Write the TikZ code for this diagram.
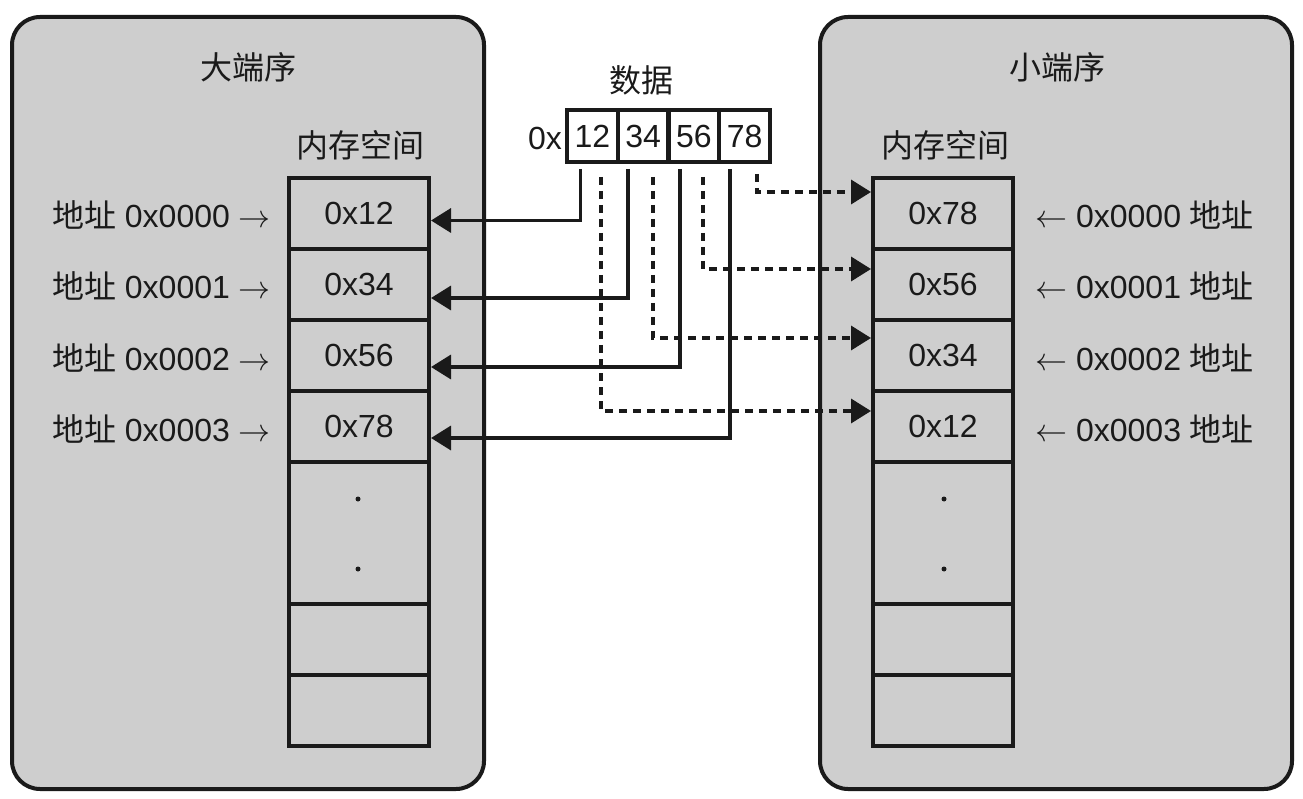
\RequirePackage{fix-cm}
\documentclass[tikz,border=0pt]{standalone}
\usepackage{fontspec}
\setmainfont{Liberation Sans}
\newfontfamily\cjk{Noto Sans CJK SC}
\usetikzlibrary{arrows.meta,calc}
\definecolor{ink}{RGB}{26,26,26}
\definecolor{panelgray}{RGB}{206,206,206}
\begin{document}
\begin{tikzpicture}[x=1pt,y=-1pt,
  every node/.style={text=ink,font=\fontsize{32}{36}\selectfont,inner sep=0pt},
  panel/.style={draw=ink,line width=4pt,fill=panelgray,rounded corners=28pt,minimum width=472pt,minimum height=772pt},
  cell/.style={draw=ink,line width=4pt,minimum width=140pt,minimum height=71pt},
  dcell/.style={draw=ink,line width=4pt,fill=white,minimum width=50.75pt,minimum height=52pt},
  conn/.style={draw=ink,line width=3.5pt,-{Triangle[length=20pt,width=24pt]}},
  dconn/.style={conn,dash pattern=on 8pt off 6pt},
  dotmark/.style={circle,fill=ink,minimum size=5pt}]
\useasboundingbox (0,0) rectangle (1303,799);
\node[panel] (LP) at (248,403) {};
\node[panel] (RP) at (1056,403) {};
\node (LT) at (248,67) {\cjk 大端序};
\node (RT) at (1057,67) {\cjk 小端序};
\node (LM) at (360,145) {\cjk 内存空间};
\node (RM) at (945,145) {\cjk 内存空间};
% left memory
\node[cell] (L1) at (359,213.5) {0x12};
\node[cell] (L2) at (359,284.5) {0x34};
\node[cell] (L3) at (359,355.5) {0x56};
\node[cell] (L4) at (359,426.5) {0x78};
\node[cell,minimum height=142pt] (L5) at (359,533) {};
\node[cell] (L6) at (359,639.5) {};
\node[cell] (L7) at (359,710.5) {};
\node[dotmark] (LD1) at (358,499) {};
\node[dotmark] (LD2) at (358,569) {};
% right memory
\node[cell] (R1) at (943,213.5) {0x78};
\node[cell] (R2) at (943,284.5) {0x56};
\node[cell] (R3) at (943,355.5) {0x34};
\node[cell] (R4) at (943,426.5) {0x12};
\node[cell,minimum height=142pt] (R5) at (943,533) {};
\node[cell] (R6) at (943,639.5) {};
\node[cell] (R7) at (943,710.5) {};
\node[dotmark] (RD1) at (944,499) {};
\node[dotmark] (RD2) at (944,569) {};
% address labels
\node[anchor=east] (LA1) at (271,215) {{\cjk 地址} 0x0000 $\rightarrow$};
\node[anchor=east] (LA2) at (271,286) {{\cjk 地址} 0x0001 $\rightarrow$};
\node[anchor=east] (LA3) at (271,358) {{\cjk 地址} 0x0002 $\rightarrow$};
\node[anchor=east] (LA4) at (271,429) {{\cjk 地址} 0x0003 $\rightarrow$};
\node[anchor=west] (RA1) at (1035,215) {$\leftarrow$ 0x0000 {\cjk 地址}};
\node[anchor=west] (RA2) at (1035,286) {$\leftarrow$ 0x0001 {\cjk 地址}};
\node[anchor=west] (RA3) at (1035,358) {$\leftarrow$ 0x0002 {\cjk 地址}};
\node[anchor=west] (RA4) at (1035,429) {$\leftarrow$ 0x0003 {\cjk 地址}};
% data
\node (DT) at (641,80) {\cjk 数据};
\node[dcell] (D1) at (592.4,136) {12};
\node[dcell] (D2) at (643.1,136) {34};
\node[dcell] (D3) at (693.9,136) {56};
\node[dcell] (D4) at (744.6,136) {78};
\node[anchor=east] (DX) at (562,138) {0x};
% big endian (solid)
\draw[conn] ($(D1.south)+(-12,5)$) |- ($(L1.east)+(0,7)$);
\draw[conn] ($(D2.south)+(-15,5)$) |- ($(L2.east)+(0,13.5)$);
\draw[conn] ($(D3.south)+(-14,5)$) |- ($(L3.east)+(0,11.5)$);
\draw[conn] ($(D4.south)+(-14.6,5)$) |- ($(L4.east)+(0,11.5)$);
% little endian (dashed)
\draw[dconn] ($(D1.south)+(8.6,13)$) |- ($(R4.west)+(0,-15.5)$);
\draw[dconn] ($(D2.south)+(9.9,13)$) |- ($(R3.west)+(0,-17.5)$);
\draw[dconn] ($(D3.south)+(9.1,13)$) |- ($(R2.west)+(0,-15.5)$);
\draw[dconn] ($(D4.south)+(12.4,10)$) |- ($(R1.west)+(0,-21.5)$);
\end{tikzpicture}
\end{document}
